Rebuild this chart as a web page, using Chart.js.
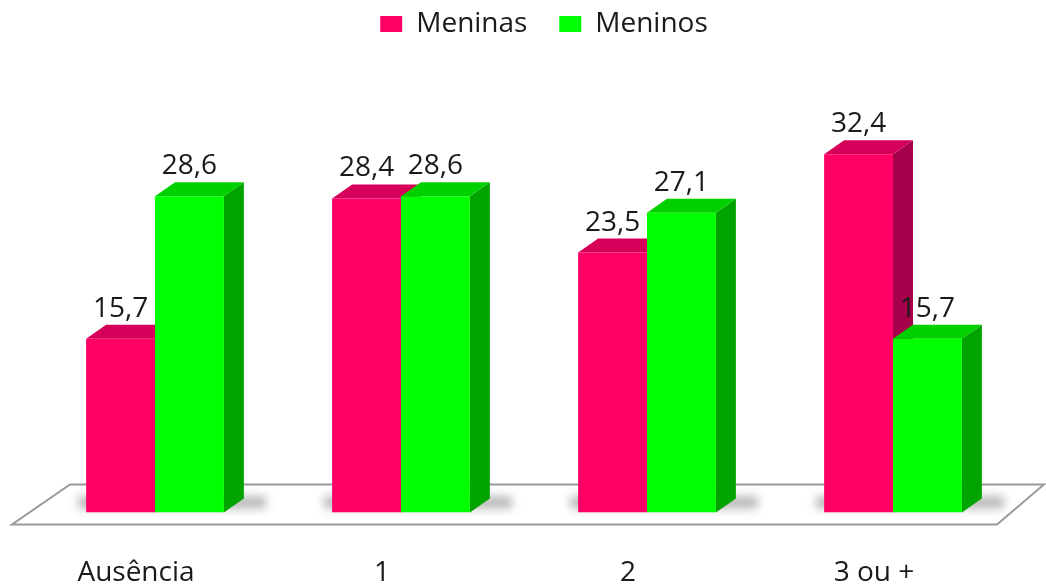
<!DOCTYPE html>
<html lang="pt">
<head>
<meta charset="UTF-8">
<title>Meninas e Meninos</title>
<script src="https://cdn.jsdelivr.net/npm/chart.js@4.4.1/dist/chart.umd.min.js"></script>
<style>
    html, body { margin: 0; padding: 0; background: #fff; }
    #wrap { width: 1046px; height: 586px; }
</style>
</head>
<body>
<div id="wrap"><canvas id="grafico"></canvas></div>
<script>
    const categorias = ["Ausência", "1", "2", "3 ou +"]
    const meninas = [15.7, 28.4, 23.5, 32.4]
    const meninos = [28.6, 28.6, 27.1, 15.7]

    const corFrente = ["#ff0066", "#00ff00"]
    const corLado = ["#a6004a", "#00a300"]
    const corTopo = ["#d6005a", "#00cf00"]
    const DX = 20, DY = 14
    const fonte = "'Open Sans', sans-serif"

    function face(ctx, pts, cor) {
        ctx.beginPath()
        ctx.moveTo(pts[0][0], pts[0][1])
        for (let k = 1; k < pts.length; k++) ctx.lineTo(pts[k][0], pts[k][1])
        ctx.closePath()
        ctx.fillStyle = cor
        ctx.fill()
    }

    const barras3d = {
        id: "barras3d",
        afterLayout(chart) {
            // legenda um pouco à direita, como no original
            chart.legend.left += 20
            chart.legend.right += 20
        },
        beforeDatasetsDraw(chart) {
            const ctx = chart.ctx
            const a = chart.chartArea
            const y0 = chart.scales.y.getPixelForValue(0)
            ctx.save()
            // chao
            ctx.beginPath()
            ctx.moveTo(a.left - 20, y0 + 12)
            ctx.lineTo(a.right - 19, y0 + 12)
            ctx.lineTo(a.right + 28, y0 - 28)
            ctx.lineTo(a.left + 38, y0 - 28)
            ctx.closePath()
            ctx.strokeStyle = "#9a9a9a"
            ctx.lineWidth = 2
            ctx.stroke()

            const m0 = chart.getDatasetMeta(0).data
            const m1 = chart.getDatasetMeta(1).data
            // sombra
            ctx.filter = "blur(5px)"
            ctx.fillStyle = "rgba(110,110,110,0.5)"
            for (let i = 0; i < m0.length; i++) {
                const xa = m0[i].x - m0[i].width / 2
                const xb = m1[i].x + m1[i].width / 2
                ctx.fillRect(xa - 8, y0 - 16, xb - xa + DX + 30, 12)
            }
            ctx.filter = "none"

            for (let i = 0; i < m0.length; i++) {
                [m0[i], m1[i]].forEach((el, d) => {
                    const x0 = el.x - el.width / 2
                    const x1 = el.x + el.width / 2
                    const top = el.y
                    face(ctx, [[x1, top], [x1 + DX, top - DY], [x1 + DX, y0 - DY], [x1, y0]], corLado[d])
                    face(ctx, [[x0, top], [x1, top], [x1 + DX, top - DY], [x0 + DX, top - DY]], corTopo[d])
                })
            }
            ctx.restore()
        },
        afterDatasetsDraw(chart) {
            const ctx = chart.ctx
            ctx.save()
            ctx.font = "28px " + fonte
            ctx.fillStyle = "#1a1a1a"
            ctx.textAlign = "center"
            ctx.textBaseline = "alphabetic"
            chart.data.datasets.forEach((ds, d) => {
                chart.getDatasetMeta(d).data.forEach((el, i) => {
                    ctx.fillText(ds.data[i].toFixed(1).replace(".", ","), el.x, el.y - 22)
                })
            })
            ctx.restore()
        }
    }

    new Chart("grafico", {
        type: "bar",
        data: {
            labels: categorias,
            datasets: [
                { label: "Meninas", data: meninas, backgroundColor: corFrente[0], borderWidth: 0 },
                { label: "Meninos", data: meninos, backgroundColor: corFrente[1], borderWidth: 0 }
            ]
        },
        options: {
            responsive: true,
            maintainAspectRatio: false,
            animation: false,
            layout: { padding: { left: 32, right: 30, top: 0, bottom: -40 } },
            datasets: { bar: { categoryPercentage: 0.56, barPercentage: 1 } },
            plugins: {
                legend: {
                    position: "top",
                    labels: {
                        boxWidth: 22,
                        boxHeight: 16,
                        padding: 10,
                        color: "#1a1a1a",
                        font: { family: fonte, size: 28 },
                        generateLabels(chart) {
                            const itens = Chart.defaults.plugins.legend.labels.generateLabels(chart)
                            itens[0].text += "   "
                            return itens
                        }
                    }
                },
                tooltip: { enabled: false }
            },
            scales: {
                x: {
                    grid: { display: false },
                    border: { display: false },
                    ticks: { color: "#1a1a1a", padding: 36, labelOffset: -19, font: { family: fonte, size: 28 } }
                },
                y: {
                    display: false,
                    min: 0,
                    max: 42
                }
            }
        },
        plugins: [barras3d]
    })
</script>
</body>
</html>
